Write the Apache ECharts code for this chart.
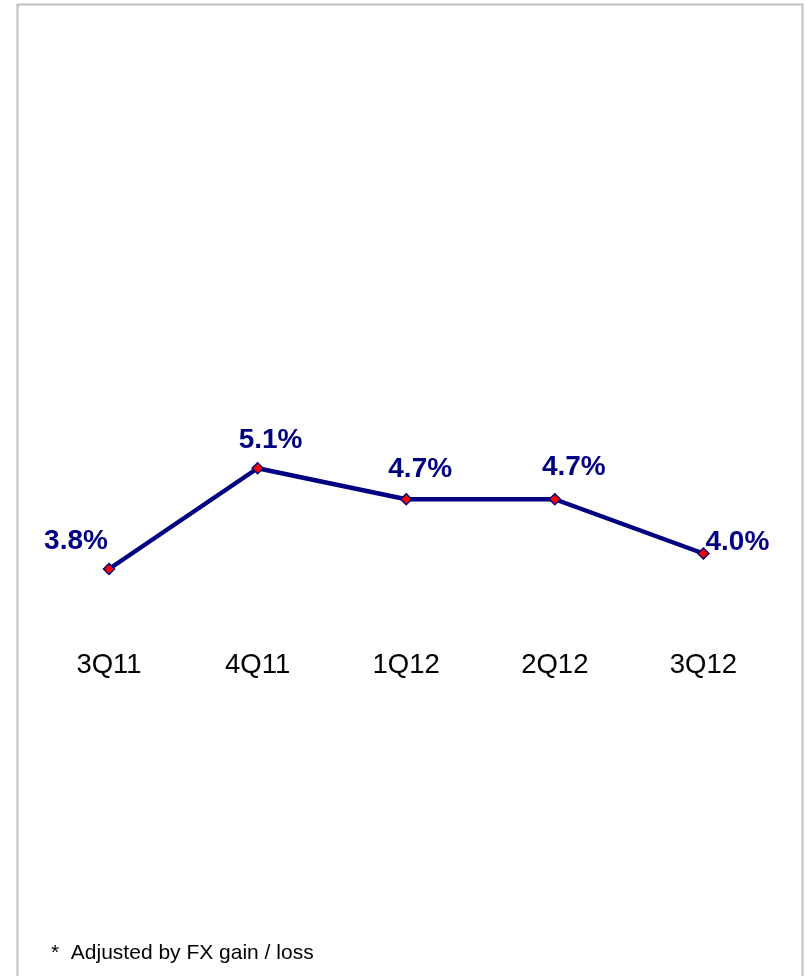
<!DOCTYPE html>
<html>
<head>
<meta charset="utf-8">
<script src="https://cdn.jsdelivr.net/npm/echarts@6/dist/echarts.min.js"></script>
<style>
html,body{margin:0;padding:0;background:#fff;}
#chart{width:806px;height:976px;}
</style>
</head>
<body>
<div id="chart"></div>
<script>
const categories = ['3Q11', '4Q11', '1Q12', '2Q12', '3Q12'];
const values = [3.8, 5.1, 4.7, 4.7, 4.0];
const footnote = '*  Adjusted by FX gain / loss';

// label offsets (style only)
const labelOffsets = [[-33, -28], [13, -28], [14, -30], [19, -32], [34, -11]];

const chart = echarts.init(document.getElementById('chart'));
chart.setOption({
  animation: false,
  backgroundColor: '#ffffff',
  grid: { left: 34.7, right: 28.3, top: 88.5, bottom: 976 - 863.5 },
  xAxis: {
    type: 'category',
    data: categories,
    boundaryGap: true,
    offset: -(863.5 - 651),
    axisLine: { show: false },
    axisTick: { show: false },
    axisLabel: { margin: 0, fontSize: 27.5, color: '#000000', fontFamily: 'Liberation Sans, Arial, sans-serif' }
  },
  yAxis: {
    type: 'value', min: 0, max: 10,
    show: false
  },
  series: [{
    type: 'line',
    data: values.map((v, i) => ({
      value: v,
      label: { offset: labelOffsets[i] }
    })),
    lineStyle: { color: '#000080', width: 4.5 },
    symbol: 'diamond',
    symbolSize: 11,
    itemStyle: { color: '#ff0000', borderColor: '#000080', borderWidth: 1.5 },
    label: {
      show: true,
      position: 'inside',
      align: 'center',
      verticalAlign: 'middle',
      formatter: p => p.value.toFixed(1) + '%',
      fontSize: 28,
      fontWeight: 'bold',
      color: '#000080',
      fontFamily: 'Liberation Sans, Arial, sans-serif'
    },
    z: 3
  }],
  graphic: [
    {
      type: 'rect',
      shape: { x: 17.5, y: 4.5, width: 785, height: 1000 },
      style: { fill: 'none', stroke: '#c0c0c0', lineWidth: 2 },
      silent: true
    },
    {
      type: 'text',
      left: 51, top: 943,
      style: { text: footnote, fontSize: 21, fill: '#000000', fontFamily: 'Liberation Sans, Arial, sans-serif' }
    }
  ]
});
</script>
</body>
</html>
